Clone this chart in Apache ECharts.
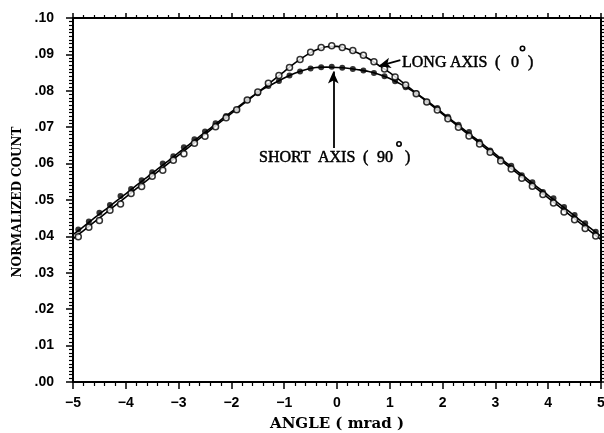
<!DOCTYPE html>
<html>
<head>
<meta charset="utf-8">
<script src="https://cdn.jsdelivr.net/npm/echarts/dist/echarts.min.js"></script>
<style>
  html, body { margin: 0; padding: 0; background: #fff; }
  #chart { width: 604px; height: 433px; }
</style>
</head>
<body>
<div id="chart"></div>
<script>
// fitted curves, sampled every 0.2 mrad
const fitAngle = [-5.0, -4.8, -4.6, -4.4, -4.2, -4.0, -3.8, -3.6, -3.4, -3.2, -3.0, -2.8, -2.6, -2.4, -2.2, -2.0, -1.8, -1.6, -1.4, -1.2, -1.0,
  -0.8, -0.6, -0.4, -0.2, 0.0, 0.2, 0.4, 0.6, 0.8, 1.0, 1.2, 1.4, 1.6, 1.8, 2.0, 2.2, 2.4, 2.6, 2.8, 3.0, 3.2, 3.4, 3.6, 3.8, 4.0, 4.2, 4.4, 4.6, 4.8, 5.0];
const shortFit = [0.0405, 0.0427, 0.0450, 0.0472, 0.0495, 0.0517, 0.0540, 0.0562, 0.0585, 0.0607, 0.0630, 0.0652, 0.0675, 0.0697, 0.0720, 0.0742, 0.0764, 0.0785, 0.0805, 0.0820, 0.0835,
  0.0848, 0.0858, 0.0864, 0.0865, 0.0864, 0.0862, 0.0858, 0.0853, 0.0845, 0.0834, 0.0819, 0.0802, 0.0783, 0.0762, 0.0739, 0.0716, 0.0694, 0.0671, 0.0649, 0.0626, 0.0603, 0.0581, 0.0558, 0.0535, 0.0513, 0.0490, 0.0468, 0.0445, 0.0423, 0.0400];
const longFit = [0.0393, 0.0416, 0.0439, 0.0462, 0.0485, 0.0508, 0.0531, 0.0554, 0.0577, 0.0600, 0.0623, 0.0646, 0.0669, 0.0692, 0.0715, 0.0738, 0.0761, 0.0784, 0.0807, 0.0830, 0.0853,
  0.0876, 0.0896, 0.0912, 0.0921, 0.0922, 0.0915, 0.0904, 0.0888, 0.0869, 0.0850, 0.0828, 0.0805, 0.0782, 0.0759, 0.0736, 0.0713, 0.0690, 0.0667, 0.0644, 0.0621, 0.0598, 0.0575, 0.0552, 0.0529, 0.0506, 0.0483, 0.0460, 0.0437, 0.0414, 0.0391];

// measured points
const pointAngle = [-4.9, -4.7, -4.5, -4.3, -4.1, -3.9, -3.7, -3.5, -3.3, -3.1, -2.9, -2.7, -2.5, -2.3, -2.1, -1.9, -1.7, -1.5, -1.3, -1.1, -0.9, -0.7, -0.5, -0.3, -0.1,
  0.1, 0.3, 0.5, 0.7, 0.9, 1.1, 1.3, 1.5, 1.7, 1.9, 2.1, 2.3, 2.5, 2.7, 2.9, 3.1, 3.3, 3.5, 3.7, 3.9, 4.1, 4.3, 4.5, 4.7, 4.9];
const shortPoints = [0.0419, 0.0441, 0.0465, 0.0486, 0.0511, 0.0530, 0.0554, 0.0576, 0.0600, 0.0620, 0.0645, 0.0667, 0.0688, 0.0711, 0.0731, 0.0747, 0.0774, 0.0793, 0.0813, 0.0827, 0.0842, 0.0853, 0.0861, 0.0865, 0.0866,
  0.0863, 0.0860, 0.0856, 0.0849, 0.0840, 0.0826, 0.0810, 0.0793, 0.0770, 0.0753, 0.0729, 0.0707, 0.0687, 0.0660, 0.0636, 0.0612, 0.0594, 0.0568, 0.0549, 0.0522, 0.0505, 0.0481, 0.0459, 0.0436, 0.0413];
const longPoints = [0.0399, 0.0425, 0.0444, 0.0472, 0.0489, 0.0518, 0.0537, 0.0565, 0.0582, 0.0609, 0.0627, 0.0656, 0.0675, 0.0701, 0.0726, 0.0748, 0.0775, 0.0797, 0.0821, 0.0842, 0.0864, 0.0886, 0.0906, 0.0919, 0.0924,
  0.0919, 0.0911, 0.0898, 0.0880, 0.0860, 0.0838, 0.0816, 0.0792, 0.0769, 0.0747, 0.0723, 0.0700, 0.0676, 0.0654, 0.0631, 0.0607, 0.0585, 0.0560, 0.0538, 0.0515, 0.0492, 0.0467, 0.0446, 0.0422, 0.0401];

const pair = (xs, ys) => xs.map((x, i) => [x, ys[i]]);

const serifBold = "bold 15px 'DejaVu Serif'";
const serif = "16px 'Liberation Serif'";

// annotation words, spaced wide like the original typesetting
const word = (text, x, y) => ({
  type: "text", x, y,
  style: { text, font: serif, fill: "#000", stroke: "#000", lineWidth: 0.5, align: "left", verticalAlign: "middle" },
});
const degree = (cx, cy) => ({
  type: "circle", shape: { cx, cy, r: 2.2 },
  style: { fill: "#fff", stroke: "#000", lineWidth: 1.6 },
});

const tickStyle = {
  axisLine: { show: true, onZero: false, lineStyle: { color: "#000", width: 2 } },
  axisTick: { show: true, inside: false, length: 7, lineStyle: { color: "#000", width: 1.5 } },
  splitLine: { show: false },
};

const chart = echarts.init(document.getElementById("chart"));
chart.setOption({
  animation: false,
  backgroundColor: "#fff",
  grid: { left: 73, right: 3, top: 18, bottom: 51, containLabel: false, outerBoundsMode: "none" },
  xAxis: [
    {
      type: "value", position: "bottom", min: -5, max: 5, interval: 1,
      ...tickStyle,
      minorTick: { show: true, splitNumber: 5, length: 4, lineStyle: { color: "#000", width: 1.2 } },
      axisLabel: {
        margin: 14, color: "#000", fontFamily: "Liberation Sans", fontWeight: "bold", fontSize: 14,
        formatter: (v) => (v < 0 ? "\u2212" + -v : String(v)),
      },
    },
    {
      type: "value", position: "top", min: -5, max: 5, interval: 1,
      ...tickStyle,
      axisTick: { show: true, inside: false, length: 5, lineStyle: { color: "#000", width: 1.5 } },
      minorTick: { show: true, splitNumber: 5, length: 3, lineStyle: { color: "#000", width: 1.2 } },
      axisLabel: { show: false },
    },
  ],
  yAxis: [
    {
      type: "value", position: "left", min: 0, max: 0.1, interval: 0.01,
      ...tickStyle,
      minorTick: { show: true, splitNumber: 10, length: 4, lineStyle: { color: "#000", width: 1.2 } },
      axisLabel: {
        margin: 19, color: "#000", fontFamily: "Liberation Sans", fontWeight: "bold", fontSize: 14,
        formatter: (v) => v.toFixed(2).slice(1),
      },
    },
    {
      type: "value", position: "right", min: 0, max: 0.1, interval: 0.01,
      ...tickStyle,
      minorTick: { show: true, splitNumber: 10, length: 4, lineStyle: { color: "#000", width: 1.2 } },
      axisLabel: { show: false },
    },
  ],
  series: [
    {
      name: "short fit", type: "line", data: pair(fitAngle, shortFit), smooth: 0.3,
      showSymbol: false, lineStyle: { color: "#000", width: 1.6 }, z: 2,
      markLine: {
        silent: true, symbol: ["none", "arrow"], symbolSize: [8, 12],
        label: { show: false },
        lineStyle: { color: "#000", width: 1.8, type: "solid" },
        data: [
          [{ coord: [-0.07, 0.0643] }, { coord: [-0.07, 0.0853] }],
          [{ coord: [1.2, 0.0884] }, { coord: [0.79, 0.0868] }],
        ],
      },
    },
    {
      name: "long fit", type: "line", data: pair(fitAngle, longFit), smooth: 0.3,
      showSymbol: false, lineStyle: { color: "#000", width: 1.6 }, z: 2,
    },
    {
      name: "SHORT AXIS ( 90° )", type: "scatter", data: pair(pointAngle, shortPoints),
      symbol: "circle", symbolSize: 6, itemStyle: { color: "#000" }, z: 3,
    },
    {
      name: "LONG AXIS ( 0° )", type: "scatter", data: pair(pointAngle, longPoints),
      symbol: "circle", symbolSize: 6, itemStyle: { color: "#fff", borderColor: "#000", borderWidth: 1.5 }, z: 4,
    },
  ],
  graphic: [
    { type: "text", x: 337, y: 424, style: { text: "ANGLE ( mrad )", font: serifBold, fill: "#000", align: "center", verticalAlign: "middle" } },
    { type: "text", x: 18, y: 202, rotation: Math.PI / 2, style: { text: "NORMALIZED COUNT", font: "bold 12px 'DejaVu Serif'", fill: "#000", align: "center", verticalAlign: "middle" } },
    word("LONG", 402, 63), word("AXIS", 450, 63), word("(", 495, 63), word("0", 511, 63), word(")", 528, 63),
    degree(522.5, 48.5),
    word("SHORT", 259, 158), word("AXIS", 318, 158), word("(", 363, 158), word("90", 377, 158), word(")", 405, 158),
    degree(399, 144),
  ],
});
</script>
</body>
</html>
